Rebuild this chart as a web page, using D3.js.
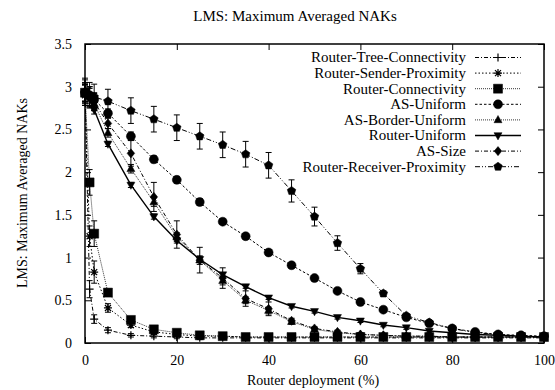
<!DOCTYPE html>
<html lang="en">
<head>
  <meta charset="UTF-8" />
  <title>LMS: Maximum Averaged NAKs</title>
  <script src="https://cdn.jsdelivr.net/npm/d3@7/dist/d3.min.js"></script>
  <style>
    html, body { margin: 0; padding: 0; background: #fff; overflow: hidden; }
    svg { display: block; }
    svg text { font-family: "Liberation Serif", "DejaVu Serif", Times, serif !important; fill: #000; }
  </style>
</head>
<body>
  <svg id="svg"></svg>
<script>
  // router deployment (%)
  const xs = [0, 1, 2, 5, 10, 15, 20, 25, 30, 35, 40, 45, 50, 55, 60, 65, 70, 75, 80, 85, 90, 95, 100];

  const names = [
    "Router-Tree-Connectivity",
    "Router-Sender-Proximity",
    "Router-Connectivity",
    "AS-Uniform",
    "AS-Border-Uniform",
    "Router-Uniform",
    "AS-Size",
    "Router-Receiver-Proximity"
  ];

  const treeConn = [2.95, 0.63, 0.28, 0.15, 0.09, 0.08, 0.07, 0.06, 0.06, 0.06, 0.06, 0.06, 0.06, 0.06, 0.06, 0.06, 0.06, 0.06, 0.06, 0.06, 0.06, 0.06, 0.06];
  const senderProx = [2.9, 1.25, 0.83, 0.41, 0.21, 0.13, 0.1, 0.08, 0.08, 0.07, 0.07, 0.07, 0.07, 0.07, 0.07, 0.07, 0.07, 0.07, 0.07, 0.07, 0.07, 0.07, 0.07];
  const routerConn = [2.93, 1.88, 1.28, 0.59, 0.27, 0.16, 0.12, 0.09, 0.08, 0.07, 0.07, 0.07, 0.07, 0.07, 0.07, 0.07, 0.07, 0.07, 0.07, 0.07, 0.07, 0.07, 0.07];
  const asUniform = [2.93, 2.9, 2.85, 2.69, 2.42, 2.15, 1.91, 1.65, 1.42, 1.25, 1.06, 0.91, 0.76, 0.61, 0.48, 0.39, 0.3, 0.23, 0.17, 0.13, 0.1, 0.09, 0.08];
  const asBorder = [2.93, 2.88, 2.8, 2.46, 2.04, 1.65, 1.24, 0.97, 0.73, 0.5, 0.38, 0.25, 0.16, 0.12, 0.1, 0.09, 0.08, 0.08, 0.07, 0.07, 0.07, 0.07, 0.07];
  const routerUniform = [2.92, 2.85, 2.73, 2.33, 1.85, 1.48, 1.2, 0.98, 0.8, 0.66, 0.53, 0.43, 0.37, 0.3, 0.26, 0.21, 0.18, 0.14, 0.12, 0.1, 0.09, 0.08, 0.07];
  const asSize = [2.93, 2.88, 2.82, 2.57, 2.22, 1.71, 1.27, 0.97, 0.76, 0.52, 0.4, 0.26, 0.17, 0.13, 0.1, 0.09, 0.08, 0.08, 0.07, 0.07, 0.07, 0.07, 0.07];
  const receiverProx = [2.93, 2.9, 2.88, 2.83, 2.72, 2.62, 2.52, 2.42, 2.32, 2.21, 2.08, 1.78, 1.48, 1.17, 0.87, 0.58, 0.32, 0.24, 0.17, 0.12, 0.1, 0.08, 0.07];

  // error bar half-heights
  const treeConnErr = [0.15, 0.1, 0.05, 0.03, 0.02, 0.02, 0.02, 0.02, 0.02, 0.02, 0.02, 0.02, 0.02, 0.02, 0.02, 0.02, 0.02, 0.02, 0.02, 0.02, 0.02, 0.02, 0.02];
  const senderProxErr = [0.12, 0.12, 0.13, 0.05, 0.03, 0.02, 0.02, 0.02, 0.02, 0.02, 0.02, 0.02, 0.02, 0.02, 0.02, 0.02, 0.02, 0.02, 0.02, 0.02, 0.02, 0.02, 0.02];
  const routerConnErr = [0.1, 0.15, 0.15, 0.04, 0.03, 0.02, 0.02, 0.02, 0.02, 0.02, 0.02, 0.02, 0.02, 0.02, 0.02, 0.02, 0.02, 0.02, 0.02, 0.02, 0.02, 0.02, 0.02];
  const asUniformErr = [0.1, 0.1, 0.08, 0.05, 0.05, 0.04, 0.04, 0.04, 0.03, 0.03, 0.03, 0.03, 0.03, 0.02, 0.02, 0.02, 0.02, 0.02, 0.02, 0.02, 0.02, 0.02, 0.02];
  const asBorderErr = [0.1, 0.1, 0.08, 0.05, 0.05, 0.05, 0.05, 0.05, 0.05, 0.04, 0.04, 0.03, 0.02, 0.02, 0.02, 0.02, 0.02, 0.02, 0.02, 0.02, 0.02, 0.02, 0.02];
  const routerUniformErr = [0.1, 0.08, 0.05, 0.03, 0.03, 0.03, 0.03, 0.03, 0.02, 0.02, 0.02, 0.02, 0.02, 0.02, 0.02, 0.02, 0.02, 0.02, 0.02, 0.02, 0.02, 0.02, 0.02];
  const asSizeErr = [0.12, 0.12, 0.1, 0.06, 0.15, 0.17, 0.16, 0.15, 0.12, 0.09, 0.08, 0.03, 0.02, 0.02, 0.02, 0.02, 0.02, 0.02, 0.02, 0.02, 0.02, 0.02, 0.02];
  const receiverProxErr = [0.15, 0.15, 0.15, 0.14, 0.15, 0.15, 0.15, 0.15, 0.15, 0.15, 0.15, 0.13, 0.11, 0.085, 0.06, 0.03, 0.02, 0.02, 0.02, 0.02, 0.02, 0.02, 0.02];

  const xTicks = [0, 20, 40, 60, 80, 100];
  const yTicks = [0, 0.5, 1, 1.5, 2, 2.5, 3, 3.5];

  const width = 555;
  const height = 390;
  const margin = { top: 44, right: 11, bottom: 47, left: 85 };
  const innerWidth = width - margin.left - margin.right;
  const innerHeight = height - margin.top - margin.bottom;
  const serif = "'Liberation Serif', 'DejaVu Serif', Times, serif";

  // marker shapes
  const shape = {
    plus: (s) => `M${-s},0H${s}M0,${-s}V${s}`,
    star: (s) => {
      const d = s * 0.75;
      return `M${-s},0H${s}M0,${-s}V${s}M${-d},${-d}L${d},${d}M${-d},${d}L${d},${-d}`;
    },
    square: (s) => `M${-s},${-s}H${s}V${s}H${-s}Z`,
    circle: (s) => `M${s},0A${s},${s} 0 1,1 ${-s},0A${s},${s} 0 1,1 ${s},0Z`,
    triUp: (s) => `M0,${-s * 1.1}L${s},${s * 0.7}L${-s},${s * 0.7}Z`,
    triDown: (s) => `M0,${s * 1.1}L${s},${-s * 0.7}L${-s},${-s * 0.7}Z`,
    diamond: (s) => `M0,${-s * 1.2}L${s},0L0,${s * 1.2}L${-s},0Z`,
    pentagon: (s) =>
      d3.range(5).map((i) => {
        const a = -Math.PI / 2 + i * 2 * Math.PI / 5;
        return (i ? "L" : "M") + (s * Math.cos(a)).toFixed(2) + "," + (s * Math.sin(a)).toFixed(2);
      }).join("") + "Z"
  };

  const series = [
    { name: names[0], ys: treeConn, err: treeConnErr, shape: "plus", size: 4, dash: "4,2,1,2", lw: 1 },
    { name: names[1], ys: senderProx, err: senderProxErr, shape: "star", size: 4, dash: "1.5,2", lw: 1 },
    { name: names[2], ys: routerConn, err: routerConnErr, shape: "square", size: 4.5, dash: "1,1", lw: 0.8 },
    { name: names[3], ys: asUniform, err: asUniformErr, shape: "circle", size: 4.5, dash: "2.5,2", lw: 1 },
    { name: names[4], ys: asBorder, err: asBorderErr, shape: "triUp", size: 4, dash: "1,1", lw: 0.8 },
    { name: names[5], ys: routerUniform, err: routerUniformErr, shape: "triDown", size: 4, dash: null, lw: 1.4 },
    { name: names[6], ys: asSize, err: asSizeErr, shape: "diamond", size: 3.8, dash: "4,2,1,2", lw: 1 },
    { name: names[7], ys: receiverProx, err: receiverProxErr, shape: "pentagon", size: 4.5, dash: "5,2,1,2,1,2", lw: 1 }
  ];

  const svg = d3.select("#svg").attr("width", width).attr("height", height);
  const g = svg.append("g").attr("transform", `translate(${margin.left},${margin.top})`);

  const xScale = d3.scaleLinear().domain([0, 100]).range([0, innerWidth]);
  const yScale = d3.scaleLinear().domain([0, 3.5]).range([innerHeight, 0]);

  // axes, ticks drawn inward and mirrored
  g.append("g").attr("transform", `translate(0,${innerHeight})`)
    .call(d3.axisBottom(xScale).tickValues(xTicks).tickSize(-6).tickPadding(12).tickFormat(d3.format("d")));
  g.append("g").call(d3.axisTop(xScale).tickValues(xTicks).tickSize(-6).tickFormat(""));
  g.append("g")
    .call(d3.axisLeft(yScale).tickValues(yTicks).tickSize(-6).tickPadding(13).tickFormat((d) => d));
  g.append("g").attr("transform", `translate(${innerWidth},0)`)
    .call(d3.axisRight(yScale).tickValues(yTicks).tickSize(-6).tickFormat(""));
  g.selectAll(".domain").remove();
  g.selectAll("g").attr("font-family", serif);
  g.selectAll(".tick line").attr("stroke", "#000").attr("stroke-width", 1);
  g.selectAll(".tick text").attr("font-size", 14).attr("font-family", serif);

  g.append("rect")
    .attr("width", innerWidth).attr("height", innerHeight)
    .attr("fill", "none").attr("stroke", "#000").attr("stroke-width", 1.5);

  const line = d3.line().x((d) => xScale(d[0])).y((d) => yScale(d[1]));

  series.forEach((s) => {
    const pts = xs.map((x, i) => [x, s.ys[i], s.err[i]]);
    const sg = g.append("g");
    sg.append("path")
      .attr("d", line(pts))
      .attr("fill", "none").attr("stroke", "#000")
      .attr("stroke-width", s.lw)
      .attr("stroke-dasharray", s.dash);
    // error bars
    pts.forEach((p) => {
      const cx = xScale(p[0]);
      const y0 = yScale(p[1] - p[2]);
      const y1 = yScale(p[1] + p[2]);
      sg.append("path")
        .attr("d", `M${cx},${y0}V${y1}M${cx - 3},${y0}H${cx + 3}M${cx - 3},${y1}H${cx + 3}`)
        .attr("stroke", "#000").attr("stroke-width", 1).attr("fill", "none");
    });
    const filled = s.shape !== "plus" && s.shape !== "star";
    sg.selectAll(".pt").data(pts).enter().append("path")
      .attr("transform", (d) => `translate(${xScale(d[0])},${yScale(d[1])})`)
      .attr("d", shape[s.shape](s.size))
      .attr("fill", filled ? "#000" : "none")
      .attr("stroke", "#000").attr("stroke-width", filled ? 0.5 : 1.2);
  });

  // legend
  const legend = g.append("g").attr("transform", `translate(${466 - margin.left},${57.5 - margin.top})`);
  series.forEach((s, i) => {
    const row = legend.append("g").attr("transform", `translate(0,${i * 15.6})`);
    row.append("text").text(s.name)
      .attr("text-anchor", "end").attr("dy", "0.33em")
      .attr("font-size", 15).attr("font-family", serif);
    row.append("line")
      .attr("x1", 9).attr("x2", 55).attr("y1", 0).attr("y2", 0)
      .attr("stroke", "#000").attr("stroke-width", s.lw)
      .attr("stroke-dasharray", s.dash);
    const filled = s.shape !== "plus" && s.shape !== "star";
    row.append("path")
      .attr("transform", "translate(32,0)")
      .attr("d", shape[s.shape](s.size))
      .attr("fill", filled ? "#000" : "none")
      .attr("stroke", "#000").attr("stroke-width", filled ? 0.5 : 1.2);
  });

  // title and axis labels
  svg.append("text").text("LMS: Maximum Averaged NAKs")
    .attr("x", 295).attr("y", 21).attr("text-anchor", "middle")
    .attr("font-size", 15).attr("font-family", serif);
  svg.append("text").text("Router deployment (%)")
    .attr("x", 313).attr("y", 385).attr("text-anchor", "middle")
    .attr("font-size", 14).attr("font-family", serif);
  svg.append("text").text("LMS: Maximum Averaged NAKs")
    .attr("transform", "translate(27,193) rotate(-90)")
    .attr("text-anchor", "middle").attr("font-size", 14).attr("font-family", serif);
</script>
</body>
</html>
